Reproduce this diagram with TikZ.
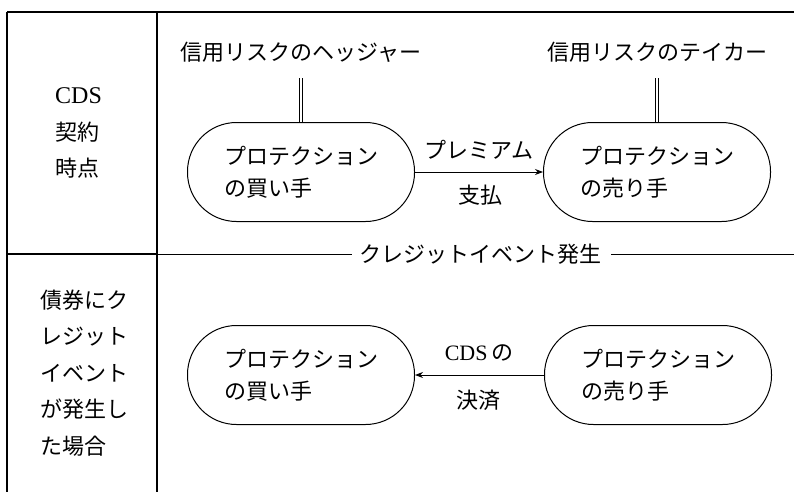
\documentclass[tikz,border=0pt]{standalone}
\usepackage{fontspec}
\setmainfont{Liberation Serif}
\newfontfamily\jp{Noto Sans CJK JP}
\usetikzlibrary{arrows.meta}
\begin{document}
\begin{tikzpicture}[x=1pt,y=-1pt,
  party/.style={draw, line width=1pt, rounded corners=49pt, minimum width=227pt,
    minimum height=99pt, align=left, inner sep=0pt,
    font=\jp\fontsize{22pt}{32pt}\selectfont},
  lbl/.style={inner sep=0pt, font=\jp\fontsize{22pt}{26pt}\selectfont},
  side/.style={inner sep=0pt, align=left, anchor=west,
    font=\jp\fontsize{22pt}{36.6pt}\selectfont},
  frame/.style={line width=1.2pt},
  thinline/.style={line width=0.8pt},
  flow/.style={line width=1pt, -{Stealth[length=8pt,width=6pt]}},
  rail/.style={line width=0.8pt, shorten <=16pt},
  railL/.style={rail, transform canvas={xshift=-1.8pt}},
  railR/.style={rail, transform canvas={xshift=1.8pt}}
]
\useasboundingbox (0,0) rectangle (794,492);

% frame
\coordinate (tl) at (7,12);
\coordinate (tr) at (794,12);
\coordinate (bl) at (7,492);
\coordinate (dt) at (157,12);
\coordinate (db) at (157,492);
\coordinate (sl) at (7,254);
\coordinate (sm) at (157,254);
\coordinate (sr) at (794,254);
\draw[frame] (tl) -- (tr);
\draw[frame] (tl) -- (bl);
\draw[frame] (dt) -- (db);
\draw[frame] (sl) -- (sm);

% left column
\node[side] (phase1) at (55,133) {{\rmfamily\fontsize{24pt}{36.6pt}\selectfont CDS}\\契約\\時点};
\node[side] (phase2) at (40,373) {債券にク\\レジット\\イベント\\が発生し\\た場合};

% credit event line
\node[lbl] (event) at (480,254) {クレジットイベント発生};
\draw[thinline, shorten >=7pt] (sm) -- (event.west);
\draw[thinline, shorten <=10pt] (event.east) -- (sr);

% upper row
\node[lbl] (hedger) at (301,52) {信用リスクのヘッジャー};
\node[lbl] (taker) at (657,52) {信用リスクのテイカー};
\node[party] (buy1) at (301,172) {プロテクション\\の買い手};
\node[party] (sell1) at (657,172) {プロテクション\\の売り手};
\draw[railL] (hedger) -- (buy1);
\draw[railR] (hedger) -- (buy1);
\draw[railL] (taker) -- (sell1);
\draw[railR] (taker) -- (sell1);
\draw[flow] (buy1) -- (sell1);
\node[lbl] (prem) at (479,150) {プレミアム};
\node[lbl] (pay) at (480,195) {支払};

% lower row
\node[party] (buy2) at (301,375) {プロテクション\\の買い手};
\node[party] (sell2) at (658,375) {プロテクション\\の売り手};
\draw[flow] (sell2) -- (buy2);
\node[lbl] (cds) at (479,353) {{\rmfamily CDS}\,の};
\node[lbl] (settle) at (478,400) {決済};
\end{tikzpicture}
\end{document}
